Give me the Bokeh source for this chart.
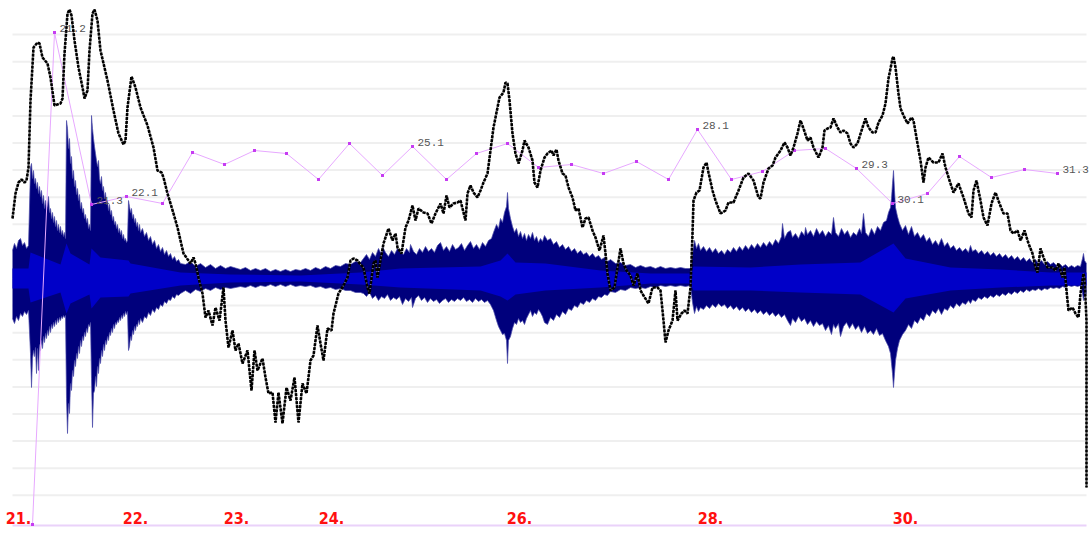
from bokeh.plotting import figure
from bokeh.models import ColumnDataSource
from bokeh.core.properties import value
from bokeh.embed import file_html
from bokeh.resources import INLINE

# ---- waveform envelope, upper side (x, amplitude) ----
wave_top = [
    (12, 28), (14, 35), (16, 30), (18, 38), (20, 40), (22, 33), (24, 36), (26, 30), (28, 33),
    (30, 111), (31, 115), (32, 100), (33, 108), (34, 95), (35, 100), (36, 90), (37, 96), (38, 85), (39, 92),
    (40, 82), (41, 88), (42, 75), (43, 83), (44, 70), (45, 78), (46, 68), (47, 74), (48, 82), (49, 66),
    (50, 70), (51, 60), (52, 66), (53, 56), (54, 62), (55, 52), (56, 58), (57, 48), (58, 54), (59, 46),
    (60, 52), (61, 44), (62, 48), (63, 42), (64, 46), (65, 40),
    (66, 158), (67, 150), (68, 130), (69, 140), (70, 115), (71, 122), (72, 100), (73, 108), (74, 92),
    (75, 98), (76, 84), (77, 90), (78, 78), (79, 84), (80, 70), (81, 76), (82, 66), (83, 70), (84, 60),
    (85, 64), (86, 56), (87, 60), (88, 50), (89, 54), (90, 48),
    (91, 163), (92, 150), (93, 140), (94, 132), (95, 125), (96, 118), (97, 112), (98, 118), (99, 100),
    (100, 95), (101, 102), (102, 88), (103, 92), (104, 80), (105, 86), (106, 74), (107, 78), (108, 68),
    (109, 74), (110, 64), (111, 68), (112, 58), (113, 62), (114, 54), (115, 57), (116, 50), (117, 54),
    (118, 46), (119, 50), (120, 44), (121, 48), (122, 40), (123, 44), (124, 38), (125, 40), (126, 36), (127, 38),
    (128, 78), (129, 72), (130, 66), (131, 70), (132, 60), (133, 64), (134, 56), (135, 60), (136, 52),
    (137, 56), (138, 48), (139, 54), (140, 46), (142, 50), (144, 42), (146, 46), (148, 38), (150, 42),
    (152, 34), (154, 38), (156, 30), (158, 34), (160, 27), (162, 31), (164, 24), (166, 28), (168, 22),
    (170, 25), (172, 19), (174, 22), (176, 17), (178, 19), (180, 15),
    (185, 14), (190, 17), (195, 12), (200, 15), (205, 11), (210, 14), (215, 10), (220, 13), (225, 10),
    (230, 12), (240, 9), (245, 11), (250, 8), (255, 10), (260, 8), (265, 10), (270, 7), (275, 9), (280, 7),
    (285, 9), (290, 7), (295, 9), (300, 8), (305, 10), (310, 8), (315, 11), (320, 9), (325, 12), (330, 10),
    (335, 13), (340, 12), (345, 15), (350, 14), (355, 17), (360, 16),
    (363, 20), (366, 24), (369, 19), (372, 26), (375, 22), (378, 30), (381, 24), (382, 32), (385, 26),
    (388, 22), (391, 28), (394, 24), (397, 30), (400, 26), (403, 24), (406, 30), (409, 26), (410, 34),
    (413, 27), (416, 24), (419, 30), (422, 26), (425, 32), (428, 27), (431, 30), (434, 26), (437, 33),
    (440, 36), (443, 28), (446, 32), (449, 27), (452, 34), (455, 29), (458, 31), (461, 35), (464, 28),
    (467, 33), (470, 37), (473, 30), (476, 34), (479, 29), (482, 36), (485, 32), (488, 38), (491, 40),
    (493, 46), (496, 54), (498, 50), (500, 60), (502, 56), (504, 66), (506, 72), (507, 86), (508, 70),
    (510, 60), (512, 52), (514, 46), (516, 50), (518, 42), (520, 47), (522, 40), (524, 45), (526, 38),
    (528, 44), (530, 40), (532, 46), (534, 38), (536, 42), (538, 36), (540, 40), (542, 37), (544, 43),
    (547, 38), (550, 40), (553, 34), (556, 37), (559, 31), (562, 34), (565, 29), (568, 32), (571, 27),
    (574, 30), (577, 25), (580, 28), (583, 24), (586, 26), (589, 22), (592, 25), (595, 21), (598, 23),
    (601, 19), (604, 21), (607, 17), (610, 19), (615, 15), (620, 16), (625, 13), (630, 14), (635, 11),
    (640, 13), (645, 11), (650, 12), (655, 10), (660, 12), (665, 10), (670, 11), (675, 10), (680, 11),
    (685, 10), (690, 10),
    (692, 25), (694, 38), (696, 30), (698, 35), (700, 28), (703, 32), (706, 27), (709, 31), (712, 26),
    (715, 30), (718, 25), (721, 28), (724, 24), (727, 29), (730, 26), (733, 31), (736, 27), (739, 32),
    (742, 28), (745, 33), (748, 29), (751, 34), (754, 30), (757, 35), (760, 31), (763, 36), (766, 32),
    (769, 37), (772, 33), (775, 39), (778, 35), (781, 42), (782, 55), (784, 40), (787, 46), (790, 48),
    (792, 41), (795, 45), (798, 40), (801, 47), (804, 43), (805, 51), (807, 44), (810, 48), (813, 42),
    (816, 50), (819, 44), (822, 48), (825, 42), (828, 47), (831, 44), (833, 61), (835, 46), (838, 42),
    (841, 50), (844, 44), (847, 48), (850, 41), (853, 46), (856, 43), (859, 50), (861, 45), (863, 65),
    (865, 46), (868, 42), (871, 50), (874, 44), (877, 52), (880, 48), (883, 56), (886, 58), (888, 66),
    (890, 71), (891, 80), (892, 95), (893, 108), (894, 88), (895, 71), (897, 62), (899, 55),
    (902, 48), (905, 53), (908, 44), (911, 52), (914, 42), (917, 46), (920, 40), (923, 44), (926, 37),
    (929, 41), (932, 34), (935, 38), (938, 33), (941, 40), (944, 32), (947, 36), (950, 30), (953, 33),
    (956, 28), (959, 31), (962, 27), (965, 30), (968, 26), (970, 33), (972, 27), (975, 29), (978, 25),
    (981, 28), (984, 24), (987, 27), (990, 23), (993, 26), (996, 22), (999, 25), (1002, 21), (1005, 24),
    (1008, 20), (1011, 23), (1014, 19), (1017, 22), (1020, 18), (1023, 21), (1026, 17), (1029, 20),
    (1032, 16), (1035, 19), (1038, 15), (1041, 18), (1044, 14), (1047, 17), (1050, 14), (1053, 16),
    (1056, 13), (1059, 15), (1062, 12), (1065, 14), (1068, 11), (1071, 13), (1074, 11), (1077, 13),
    (1080, 12), (1082, 20), (1083, 25), (1084, 18), (1086, 15),
]

# ---- waveform envelope, lower side (x, amplitude) ----
wave_bottom = [
    (12, -40), (14, -45), (16, -38), (18, -42), (20, -35), (22, -38), (24, -33), (26, -36), (28, -32),
    (30, -75), (31, -109), (32, -80), (33, -72), (34, -78), (35, -69), (36, -95), (37, -70), (38, -92),
    (39, -66), (40, -72), (41, -62), (42, -70), (43, -58), (44, -64), (45, -55), (46, -60), (47, -52),
    (48, -57), (49, -48), (50, -54), (51, -46), (52, -50), (53, -44), (54, -48), (55, -42), (56, -46),
    (57, -40), (58, -44), (59, -39), (60, -42), (61, -38), (62, -40), (63, -37), (64, -39), (65, -37),
    (66, -120), (67, -155), (68, -125), (69, -135), (70, -105), (71, -112), (72, -92), (73, -98), (74, -82),
    (75, -88), (76, -75), (77, -80), (78, -68), (79, -75), (80, -62), (81, -68), (82, -58), (83, -62),
    (84, -54), (85, -58), (86, -50), (87, -54), (88, -46), (89, -48), (90, -44),
    (91, -100), (92, -149), (93, -115), (94, -112), (95, -98), (96, -108), (97, -88), (98, -95), (99, -80),
    (100, -85), (101, -72), (102, -78), (103, -66), (104, -72), (105, -62), (106, -66), (107, -58),
    (108, -62), (109, -54), (110, -57), (111, -50), (112, -54), (113, -46), (114, -50), (115, -44),
    (116, -46), (117, -42), (118, -44), (119, -39), (120, -42), (121, -37), (122, -40), (123, -35),
    (124, -38), (125, -33), (126, -36), (127, -33),
    (128, -72), (129, -68), (130, -58), (131, -62), (132, -52), (133, -56), (134, -48), (135, -52),
    (136, -46), (137, -48), (138, -42), (139, -46), (140, -40), (142, -44), (144, -38), (146, -40),
    (148, -34), (150, -37), (152, -31), (154, -34), (156, -29), (158, -31), (160, -26), (162, -28),
    (164, -23), (166, -25), (168, -21), (170, -22), (172, -18), (174, -20), (176, -16), (178, -17), (180, -15),
    (185, -12), (190, -15), (195, -11), (200, -13), (205, -10), (210, -12), (215, -9), (220, -11), (225, -9),
    (230, -10), (240, -8), (245, -9), (250, -7), (255, -9), (260, -7), (265, -8), (270, -6), (275, -8),
    (280, -6), (285, -8), (290, -6), (295, -8), (300, -7), (305, -8), (310, -7), (315, -9), (320, -8),
    (325, -10), (330, -9), (335, -11), (340, -10), (345, -12), (350, -12), (355, -14), (360, -14),
    (363, -15), (366, -18), (369, -14), (372, -20), (375, -17), (378, -22), (381, -18), (384, -20),
    (387, -16), (390, -22), (393, -19), (396, -21), (399, -18), (402, -26), (405, -20), (408, -23),
    (411, -19), (412, -29), (415, -20), (418, -17), (421, -22), (424, -19), (427, -24), (430, -20),
    (433, -23), (436, -21), (439, -25), (442, -22), (445, -20), (448, -24), (451, -21), (454, -23),
    (457, -20), (460, -22), (463, -19), (466, -23), (469, -21), (472, -24), (475, -20), (478, -23),
    (481, -21), (484, -24), (487, -22), (490, -26),
    (493, -32), (496, -42), (498, -48), (500, -52), (502, -56), (504, -55), (506, -62), (507, -85),
    (508, -62), (510, -58), (512, -50), (514, -44), (516, -46), (518, -40), (520, -44), (522, -42),
    (524, -46), (526, -40), (528, -36), (530, -32), (532, -38), (534, -34), (536, -36), (538, -31),
    (540, -34), (542, -38), (544, -44),
    (547, -46), (550, -39), (553, -42), (556, -36), (559, -39), (562, -33), (565, -36), (568, -30),
    (571, -32), (574, -27), (577, -29), (580, -24), (583, -26), (586, -22), (589, -24), (592, -20),
    (595, -22), (598, -18), (601, -19), (604, -16), (607, -17), (610, -13), (615, -14), (620, -11),
    (625, -12), (630, -9), (635, -10), (640, -9), (645, -10), (650, -8), (655, -9), (660, -7), (665, -8),
    (670, -7), (675, -8), (680, -7), (685, -8), (690, -7),
    (692, -24), (694, -35), (696, -28), (698, -33), (700, -29), (703, -31), (706, -27), (709, -30),
    (712, -26), (715, -29), (718, -25), (721, -28), (724, -26), (727, -30), (730, -27), (733, -31),
    (736, -28), (739, -32), (742, -29), (745, -33), (748, -30), (751, -34), (754, -31), (757, -35),
    (760, -32), (763, -36), (766, -33), (769, -37), (772, -34), (775, -38), (778, -35), (781, -39),
    (784, -36), (787, -42), (790, -47), (792, -40), (795, -44), (798, -38), (801, -43), (804, -40),
    (807, -46), (810, -42), (813, -48), (816, -43), (819, -47), (822, -45), (825, -52), (828, -47),
    (831, -56), (833, -46), (835, -50), (838, -45), (840, -58), (843, -48), (846, -44), (849, -50),
    (852, -45), (855, -51), (858, -47), (861, -54), (864, -48), (867, -55), (870, -52), (873, -56),
    (876, -50), (879, -57), (882, -55), (885, -62), (888, -68), (890, -75), (891, -85), (892, -95),
    (893, -109), (894, -95), (895, -82), (897, -70), (899, -62),
    (902, -56), (905, -52), (908, -46), (911, -50), (914, -42), (917, -45), (920, -39), (923, -42),
    (926, -35), (929, -38), (932, -32), (935, -35), (938, -30), (941, -36), (944, -30), (947, -32),
    (950, -27), (953, -30), (956, -25), (959, -28), (962, -24), (965, -26), (968, -22), (970, -25),
    (972, -21), (975, -23), (978, -19), (981, -21), (984, -18), (987, -20), (990, -17), (993, -19),
    (996, -16), (999, -18), (1002, -15), (1005, -17), (1008, -14), (1011, -16), (1014, -13), (1017, -15),
    (1020, -12), (1023, -14), (1026, -11), (1029, -13), (1032, -11), (1035, -12), (1038, -10), (1041, -12),
    (1044, -10), (1047, -11), (1050, -9), (1053, -10), (1056, -9), (1059, -10), (1062, -8), (1065, -9),
    (1068, -7), (1071, -8), (1074, -7), (1077, -8), (1080, -7), (1082, -15), (1083, -22), (1084, -16),
    (1086, -15),
]

# ---- brighter inner band of the waveform ----
core_x = [12, 28, 30, 60, 66, 70, 89, 91, 100, 128, 130, 180, 230, 300, 360, 400, 480, 500, 507, 515, 545,
          600, 650, 690, 693, 750, 800, 860, 893, 905, 950, 1000, 1050, 1086]
core_hi = [10, 10, 26, 14, 35, 25, 14, 30, 21, 18, 15, 6, 4, 3, 6, 10, 12, 18, 25, 16, 15,
           8, 5, 5, 12, 11, 14, 16, 35, 20, 11, 9, 6, 6]
core_lo = [-10, -10, -24, -14, -35, -25, -16, -30, -19, -18, -15, -7, -4, -3, -6, -9, -12, -18, -22, -16, -12,
           -9, -5, -5, -12, -12, -14, -16, -34, -20, -12, -9, -7, -7]

# ---- trend curve ----
trend_x = [12, 15, 18, 21, 24, 26, 28, 30, 33, 37, 39, 42, 47, 50, 53, 54, 60, 62, 64, 67, 69, 71, 74, 78, 82, 84,
           87, 89, 92, 94, 97, 100, 107, 113, 118, 123, 125, 127, 131, 135, 140, 147, 153, 157, 161, 163, 167, 173,
           177, 180, 183, 190, 193, 195, 198, 202, 205, 208, 212, 215, 219, 223, 225, 228, 232, 235, 238, 242, 247,
           251, 254, 257, 262, 265, 268, 272, 275, 278, 282, 286, 290, 294, 298, 302, 306, 310, 313, 317, 320, 323,
           327, 331, 333, 338, 343, 347, 350, 353, 357, 360, 363, 367, 369, 373, 375, 377, 380, 383, 388, 392, 395,
           397, 401, 405, 408, 412, 415, 418, 423, 427, 431, 435, 440, 443, 446, 449, 453, 457, 460, 465, 467, 470,
           473, 477, 480, 483, 487, 490, 493, 497, 499, 503, 505, 507, 509, 512, 515, 518, 522, 524, 528, 532, 534,
           537, 540, 544, 547, 551, 553, 556, 558, 562, 565, 568, 572, 575, 578, 582, 585, 588, 592, 595, 599, 603,
           605, 607, 610, 614, 617, 620, 623, 626, 630, 633, 637, 640, 643, 648, 652, 657, 660, 663, 665, 668, 672,
           675, 677, 681, 684, 687, 690, 692, 693, 696, 699, 703, 706, 708, 712, 715, 720, 725, 728, 733, 738, 743,
           748, 753, 758, 760, 763, 768, 772, 775, 780, 784, 787, 790, 793, 797, 800, 803, 807, 810, 813, 818, 822,
           824, 827, 830, 833, 837, 840, 843, 847, 850, 853, 857, 862, 865, 868, 872, 875, 878, 882, 885, 888, 892,
           893, 895, 898, 900, 903, 907, 911, 913, 917, 920, 923, 925, 928, 933, 938, 942, 945, 949, 953, 958, 963,
           968, 971, 973, 976, 980, 983, 987, 991, 995, 999, 1003, 1007, 1010, 1013, 1017, 1020, 1024, 1028, 1032,
           1035, 1037, 1040, 1043, 1047, 1052, 1055, 1058, 1062, 1064, 1066, 1068, 1072, 1075, 1078, 1080, 1083,
           1084, 1086, 1086]
trend_y = [60, 85, 96, 99, 96, 98, 111, 178, 231, 236, 235, 221, 215, 201, 180, 173, 175, 180, 225, 265, 269, 263, 238,
           211, 191, 180, 188, 228, 265, 269, 258, 228, 198, 168, 145, 134, 138, 171, 202, 191, 171, 153, 131, 108,
           106, 101, 85, 65, 51, 38, 25, 15, 21, 15, 1, -15, -39, -32, -47, -29, -42, -9, -42, -69, -52, -72, -65,
           -85, -72, -112, -72, -92, -80, -99, -115, -114, -144, -114, -145, -109, -122, -99, -144, -105, -115, -82,
           -77, -47, -65, -82, -50, -52, -35, -15, -7, 1, 18, 20, 18, 14, 11, -9, -15, 15, 18, 1, 18, 35, 50, 38, 45,
           31, 25, 51, 58, 73, 58, 70, 66, 65, 55, 65, 75, 65, 83, 71, 75, 76, 78, 58, 85, 93, 86, 81, 88, 96, 105,
           128, 151, 171, 181, 186, 196, 195, 178, 145, 125, 115, 128, 138, 131, 118, 96, 91, 108, 121, 125, 128,
           123, 129, 118, 105, 103, 91, 81, 68, 70, 51, 60, 61, 48, 41, 28, 43, 25, 5, -12, -9, 11, 30, 15, 8, 3,
           -7, 5, -12, -17, -25, -9, -9, -12, -42, -64, -52, -42, -12, -42, -35, -32, -35, -9, 45, 78, 86, 88, 111,
           116, 106, 88, 78, 65, 68, 76, 76, 88, 101, 105, 98, 81, 80, 96, 110, 113, 121, 128, 136, 131, 123, 131,
           145, 158, 150, 138, 141, 131, 121, 131, 148, 150, 151, 160, 151, 146, 148, 145, 135, 131, 135, 151, 160,
           151, 146, 146, 156, 163, 175, 200, 220, 222, 211, 185, 170, 163, 155, 161, 158, 135, 118, 96, 111, 121,
           116, 116, 125, 111, 98, 86, 95, 81, 65, 61, 88, 98, 78, 61, 53, 75, 86, 75, 65, 65, 48, 45, 48, 38, 48,
           35, 25, 11, 6, 30, 21, 11, 11, 8, 15, 1, 11, -12, -32, -29, -35, -39, -15, 5, 1, -42, -209]

# ---- daily markers ----
mark_x = [32, 54, 91, 126, 162, 192, 224, 254, 286, 318, 349, 382, 412, 446, 476, 507, 538, 571, 603, 636, 668,
          697, 731, 762, 794, 825, 856, 892, 927, 959, 991, 1024, 1057]
mark_y = [-246, 246, 74, 82, 75, 126, 114, 128, 125, 99, 135, 103, 132, 99, 125, 135, 111, 114, 105, 117, 99,
          149, 99, 107, 128, 130, 110, 75, 85, 122, 101, 109, 105]
mark_text = ["", "21.2", "21.3", "22.1", "", "", "", "", "", "", "", "", "25.1", "", "", "", "", "", "", "", "",
             "28.1", "", "", "", "", "29.3", "30.1", "", "", "", "", "31.3"]

# ---- day labels along the bottom ----
day_labels = ["21.", "22.", "23.", "24.", "26.", "28.", "30."]
day_x = [18, 135, 236, 331, 519, 710, 905]

GRID_STEP = 27.1
grid_y = [GRID_STEP * k for k in range(-8, 10)]

top_x = [a for a, _ in wave_top]
top_y = [b for _, b in wave_top]
bot_x = [a for a, _ in wave_bottom]
bot_y = [b for _, b in wave_bottom]

p = figure(width=1091, height=534, x_range=(0, 1091), y_range=(-256, 278),
           x_axis_type=None, y_axis_type=None, toolbar_location=None,
           output_backend="svg", min_border=0)
p.outline_line_color = None
p.background_fill_color = "white"
p.border_fill_color = "white"

x_lo, x_hi = min(top_x), max(top_x)

# horizontal guide lines
p.segment(x0=[x_lo] * len(grid_y), x1=[x_hi] * len(grid_y), y0=grid_y, y1=grid_y,
          line_color="#efefef", line_width=2)

# waveform: outer envelope (upper and lower halves) then brighter core
p.varea(x=top_x, y1=[0] * len(top_x), y2=top_y, fill_color="#00007c")
p.varea(x=bot_x, y1=bot_y, y2=[0] * len(bot_x), fill_color="#00007c")
p.line(x=top_x, y=top_y, line_color="#4a4aa8", line_width=1, line_alpha=0.7)
p.line(x=bot_x, y=bot_y, line_color="#4a4aa8", line_width=1, line_alpha=0.7)
p.varea(x=core_x, y1=core_lo, y2=core_hi, fill_color="#0000c8")

# bottom baseline
p.segment(x0=[x_lo], x1=[x_hi], y0=[mark_y[0] - 1], y1=[mark_y[0] - 1],
          line_color="#ead2fa", line_width=2)

# daily markers
p.line(x=mark_x, y=mark_y, line_color="#e7a8ff", line_width=1)
p.scatter(x=mark_x, y=mark_y, size=3, marker="square", fill_color="#c63cf2", line_color=None)

# trend curve (dotted)
p.line(x=trend_x, y=trend_y, line_color="#8a8a8a", line_width=1.2)
p.line(x=trend_x, y=trend_y, line_color="black", line_width=2.6, line_dash="3 1")

# marker annotations
msrc = ColumnDataSource(dict(x=[v + 5 for v in mark_x], y=[v + 4 for v in mark_y], t=mark_text))
p.text(x="x", y="y", text="t", source=msrc, text_font=value("Liberation Mono"),
       text_font_size="11px", text_color="#555555", text_baseline="middle", text_align="left")

# day labels
dsrc = ColumnDataSource(dict(x=day_x, y=[-239] * len(day_x), t=day_labels))
p.text(x="x", y="y", text="t", source=dsrc,
       text_font=value("'Liberation Sans Narrow', 'DejaVu Sans Condensed', sans-serif"),
       text_font_size="16px", text_font_style="bold", text_color="#ff1010",
       text_baseline="middle", text_align="center")

open("out.html", "w").write(file_html(p, INLINE))
